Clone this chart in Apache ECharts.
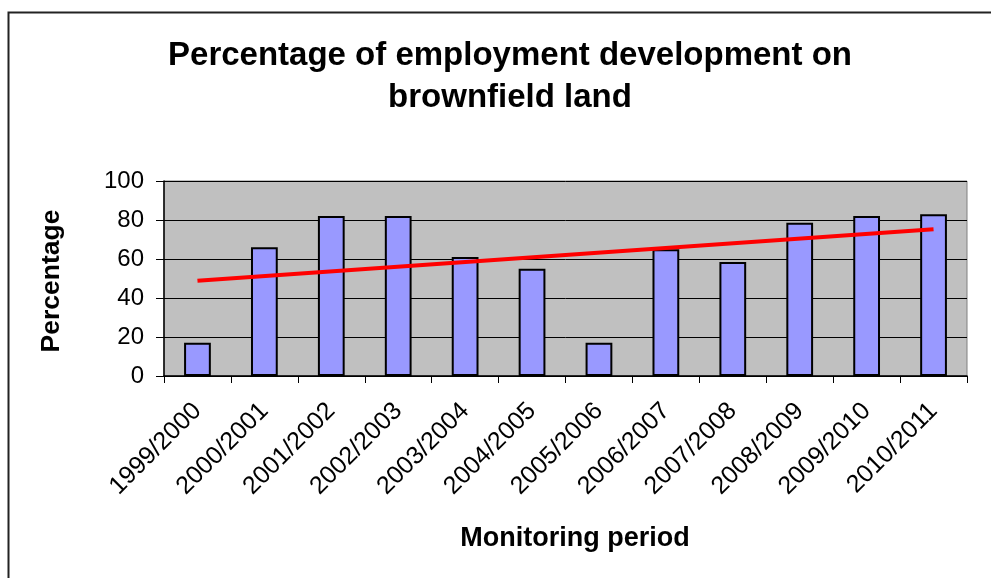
<!DOCTYPE html>
<html>
<head>
<meta charset="utf-8">
<title>Percentage of employment development on brownfield land</title>
<script src="https://cdn.jsdelivr.net/npm/echarts@6/dist/echarts.min.js"></script>
<style>
  html, body { margin: 0; padding: 0; background: #ffffff; }
  #chart { width: 991px; height: 578px; }
</style>
</head>
<body>
<div id="chart"></div>
<script>
// Monitoring periods (x axis categories)
const periods = [
  '1999/2000', '2000/2001', '2001/2002', '2002/2003', '2003/2004', '2004/2005',
  '2005/2006', '2006/2007', '2007/2008', '2008/2009', '2009/2010', '2010/2011'
];
// Share of employment development on brownfield land (%)
const brownfieldPct = [17, 66, 82, 82, 61, 55, 17, 65, 58.5, 78.6, 82, 83];
// Linear trend line: values at the first and last period
const trendStart = 48.9;
const trendEnd = 75.3;
// Y axis ticks
const yTicks = [0, 20, 40, 60, 80, 100];

const trendData = periods.map((p, i) =>
  i === 0 ? trendStart : (i === periods.length - 1 ? trendEnd : null));

const FONT = 'Arial, "Liberation Sans", Helvetica, sans-serif';

const chart = echarts.init(document.getElementById('chart'), null, { renderer: 'canvas' });

chart.setOption({
  animation: false,
  backgroundColor: '#ffffff',
  grid: {
    left: 164, right: 24, top: 181, bottom: 202,
    show: true,
    backgroundColor: '#c0c0c0',
    borderColor: '#808080',
    borderWidth: 1
  },
  graphic: [
    {
      type: 'rect',
      shape: { x: 8.5, y: 12.5, width: 1100, height: 700 },
      style: { fill: 'none', stroke: '#222222', lineWidth: 2 },
      silent: true, z: -1
    },
    {
      type: 'text',
      x: 510, y: 56,
      style: {
        text: 'Percentage of employment development on',
        font: 'bold 33px ' + FONT,
        fill: '#000000', textAlign: 'center', textVerticalAlign: 'middle'
      }
    },
    {
      type: 'text',
      x: 510, y: 98,
      style: {
        text: 'brownfield land',
        font: 'bold 33px ' + FONT,
        fill: '#000000', textAlign: 'center', textVerticalAlign: 'middle'
      }
    },
    {
      type: 'text',
      x: 575, y: 539,
      style: {
        text: 'Monitoring period',
        font: 'bold 27px ' + FONT,
        fill: '#000000', textAlign: 'center', textVerticalAlign: 'middle'
      }
    },
    {
      type: 'text',
      x: 52, y: 281,
      rotation: Math.PI / 2,
      style: {
        text: 'Percentage',
        font: 'bold 26.5px ' + FONT,
        fill: '#000000', textAlign: 'center', textVerticalAlign: 'middle'
      }
    }
  ],
  xAxis: {
    type: 'category',
    data: periods,
    boundaryGap: true,
    axisLine: { show: true, lineStyle: { color: '#000000', width: 1.5 } },
    axisTick: { show: true, alignWithLabel: false, length: 7, lineStyle: { color: '#000000', width: 1 } },
    axisLabel: {
      interval: 0, rotate: 45, margin: 31,
      color: '#000000', fontFamily: FONT, fontSize: 25
    },
    splitLine: { show: false }
  },
  yAxis: {
    type: 'value',
    min: 0, max: 100, interval: 20,
    axisLine: { show: true, lineStyle: { color: '#000000', width: 1.5 } },
    axisTick: { show: true, inside: false, length: 8, lineStyle: { color: '#000000', width: 1 } },
    axisLabel: {
      margin: 20, color: '#000000', fontFamily: FONT, fontSize: 24,
      formatter: v => (yTicks.indexOf(v) >= 0 ? String(v) : '')
    },
    splitLine: { show: true, lineStyle: { color: '#000000', width: 1 } }
  },
  series: [
    {
      name: 'Brownfield share',
      type: 'bar',
      data: brownfieldPct,
      barWidth: '40%',
      itemStyle: { color: '#9999ff', borderColor: '#000000', borderWidth: 2 },
      z: 2
    },
    {
      name: 'Linear trend',
      type: 'line',
      data: trendData,
      connectNulls: true,
      symbol: 'none',
      lineStyle: { color: '#ff0000', width: 4 },
      z: 3
    }
  ]
});
</script>
</body>
</html>
